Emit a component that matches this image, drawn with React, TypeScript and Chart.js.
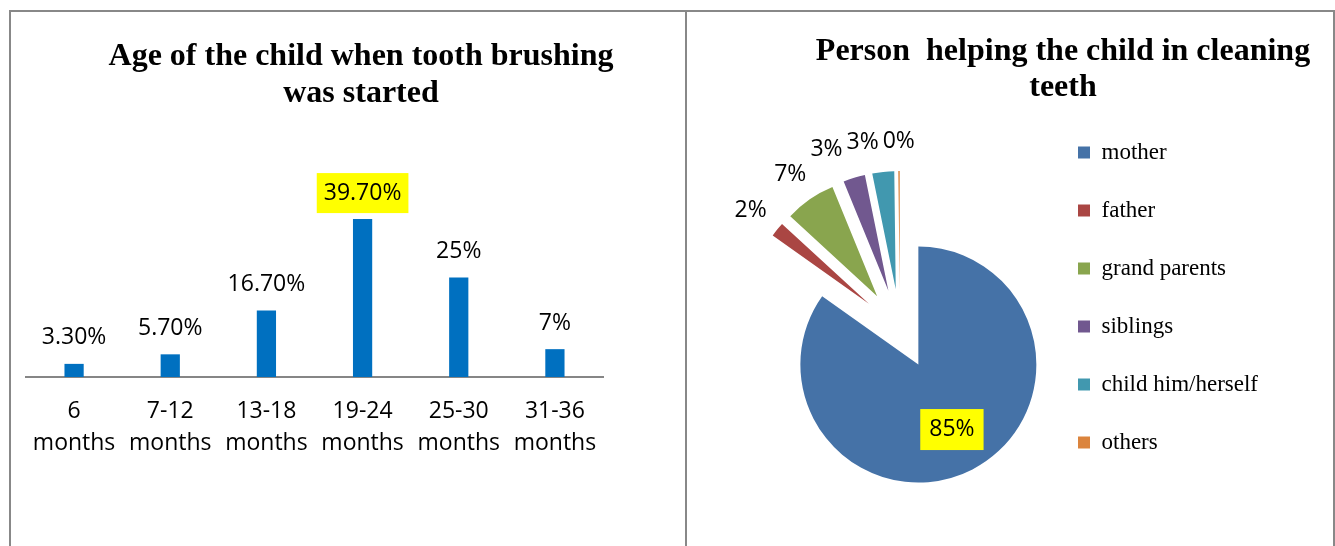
import React, { useEffect, useRef } from 'react';
import { Chart, registerables } from 'chart.js';

Chart.register(...registerables);

// ---------- data ----------
const barCategories = [
  ['6', 'months'],
  ['7-12', 'months'],
  ['13-18', 'months'],
  ['19-24', 'months'],
  ['25-30', 'months'],
  ['31-36', 'months'],
];
const barValues = [3.3, 5.7, 16.7, 39.7, 25, 7];
const barValueLabels = ['3.30%', '5.70%', '16.70%', '39.70%', '25%', '7%'];
const barHighlightIndex = 3;
const barTitle = ['Age of the child when tooth brushing', 'was started'];

const pieCategories = ['mother', 'father', 'grand parents', 'siblings', 'child him/herself', 'others'];
const pieValues = [85, 2, 7, 3, 3, 0.2];
const pieValueLabels = ['85%', '2%', '7%', '3%', '3%', '0%'];
const pieHighlightIndex = 0;
const pieColors = ['#4572A7', '#AA4643', '#89A54E', '#71588F', '#4198AF', '#DB843D'];
const pieTitle = ['Person  helping the child in cleaning', 'teeth'];

// ---------- styles ----------
const SANS = '"Open Sans", "Noto Sans", sans-serif';
const SERIF = '"Liberation Serif", "Times New Roman", serif';
const LABEL_FONT = '23px ' + SANS;
const HIGHLIGHT = '#FFFF00';

const barLabelPlugin = {
  id: 'barLabels',
  afterDatasetsDraw(chart: any) {
    const ctx = chart.ctx;
    const meta = chart.getDatasetMeta(0);
    ctx.save();
    ctx.font = LABEL_FONT;
    ctx.textAlign = 'center';
    ctx.textBaseline = 'middle';
    meta.data.forEach((bar: any, i: number) => {
      const text = barValueLabels[i];
      const x = bar.x;
      const y = bar.y - 26;
      if (i === barHighlightIndex) {
        const w = ctx.measureText(text).width + 14;
        ctx.fillStyle = HIGHLIGHT;
        ctx.fillRect(x - w / 2, y - 20, w, 40);
      }
      ctx.fillStyle = '#000';
      ctx.fillText(text, x, y);
    });
    ctx.restore();
  },
};

const explodePlugin = {
  id: 'explode',
  afterDatasetUpdate(chart: any, args: any, opts: any) {
    const d = (opts && opts.distance) || 0;
    const meta = chart.getDatasetMeta(args.index);
    meta.data.forEach((arc: any) => {
      const mid = (arc.startAngle + arc.endAngle) / 2;
      arc.x += Math.cos(mid) * d;
      arc.y += Math.sin(mid) * d;
    });
  },
};

const pieLabelPlugin = {
  id: 'pieLabels',
  afterDatasetsDraw(chart: any) {
    const ctx = chart.ctx;
    const meta = chart.getDatasetMeta(0);
    ctx.save();
    ctx.font = LABEL_FONT;
    ctx.textAlign = 'center';
    ctx.textBaseline = 'middle';
    const boxes: any[] = [];
    meta.data.forEach((arc: any, i: number) => {
      const mid = (arc.startAngle + arc.endAngle) / 2;
      const c = Math.cos(mid);
      const s = Math.sin(mid);
      const text = pieValueLabels[i];
      const w = ctx.measureText(text).width;
      const h = 24;
      if (i === pieHighlightIndex) {
        const r = arc.outerRadius * 0.62;
        boxes.push({ text, x: arc.x + c * r, y: arc.y + s * r, w, h, inside: true });
      } else {
        const r = arc.outerRadius + 18;
        boxes.push({ text, x: arc.x + c * r + (c * w) / 2, y: arc.y + s * r + (s * h) / 2, w, h, inside: false });
      }
    });
    const outside = boxes.filter((b) => !b.inside);
    for (let k = outside.length - 2; k >= 0; k--) {
      const a = outside[k];
      const b = outside[k + 1];
      const vOverlap = Math.abs(a.y - b.y) < (a.h + b.h) / 2;
      const limit = b.x - b.w / 2 - 4;
      if (vOverlap && a.x + a.w / 2 > limit) a.x = limit - a.w / 2;
    }
    boxes.forEach((b) => {
      if (b.inside) {
        const bw = b.w + 18;
        ctx.fillStyle = HIGHLIGHT;
        ctx.fillRect(b.x - bw / 2, b.y - 20.5, bw, 41);
      }
      ctx.fillStyle = '#000';
      ctx.fillText(b.text, b.x, b.y);
    });
    ctx.restore();
  },
};

function refreshAfterFonts(chart: Chart, alive: () => boolean) {
  const fs: any = (document as any).fonts;
  if (!fs || !fs.load) return;
  Promise.all([
    fs.load('23px "Open Sans"'),
    fs.load('bold 32px "Liberation Serif"'),
    fs.load('23px "Liberation Serif"'),
  ])
    .then(() => {
      if (alive()) chart.update();
    })
    .catch(() => {});
}

function BarPanel() {
  const ref = useRef<HTMLCanvasElement>(null);
  useEffect(() => {
    if (!ref.current) return;
    let alive = true;
    const chart = new Chart(ref.current, {
      type: 'bar',
      data: {
        labels: barCategories,
        datasets: [
          {
            data: barValues,
            backgroundColor: '#0070C0',
            borderWidth: 0,
            categoryPercentage: 1,
            barPercentage: 0.2,
          },
        ],
      },
      options: {
        animation: false,
        responsive: false,
        devicePixelRatio: 1,
        layout: { padding: { left: 15, right: 0, top: 0, bottom: 0 } },
        plugins: {
          legend: { display: false },
          tooltip: { enabled: false },
          title: {
            display: true,
            text: barTitle,
            color: '#000',
            font: { family: SERIF, size: 32, weight: 'bold', lineHeight: 37 / 32 },
            padding: { top: 26, bottom: 86 },
          },
        },
        scales: {
          x: {
            grid: { display: false, drawTicks: false },
            border: { display: true, color: '#868686', width: 2 },
            ticks: {
              color: '#000',
              font: { family: SANS, size: 23, lineHeight: 32 / 23 },
              padding: 18,
              maxRotation: 0,
              minRotation: 0,
              autoSkip: false,
            },
            afterFit: (s: any) => {
              s.height = 169;
            },
          },
          y: {
            position: 'right',
            min: 0,
            max: 45,
            display: true,
            grid: { display: false, drawTicks: false },
            border: { display: false },
            ticks: { display: false },
            afterFit: (s: any) => {
              s.width = 93;
            },
          },
        },
      } as any,
      plugins: [barLabelPlugin],
    });
    refreshAfterFonts(chart, () => alive);
    return () => {
      alive = false;
      chart.destroy();
    };
  }, []);
  return (
    <canvas
      ref={ref}
      width={685}
      height={534}
      style={{ position: 'absolute', left: 11, top: 12, width: 685, height: 534 }}
    />
  );
}

function PiePanel() {
  const ref = useRef<HTMLCanvasElement>(null);
  useEffect(() => {
    if (!ref.current) return;
    let alive = true;
    const chart = new Chart(ref.current, {
      type: 'pie',
      data: {
        labels: pieCategories,
        datasets: [
          {
            data: pieValues,
            backgroundColor: pieColors,
            borderWidth: 0,
            radius: 118,
          },
        ],
      },
      options: {
        animation: false,
        responsive: false,
        devicePixelRatio: 1,
        layout: { padding: { left: 103, right: 0, top: 0, bottom: 0 } },
        plugins: {
          tooltip: { enabled: false },
          title: {
            display: true,
            text: pieTitle,
            color: '#000',
            font: { family: SERIF, size: 32, weight: 'bold', lineHeight: 36 / 32 },
            padding: { top: 22, bottom: 0 },
          },
          legend: {
            position: 'right',
            fullSize: false,
            align: 'start',
            labels: {
              boxWidth: 12,
              boxHeight: 12,
              padding: 35,
              color: '#000',
              font: { family: SERIF, size: 23 },
            },
          },
          explode: { distance: 40 },
        },
        scales: {
          gapInner: {
            type: 'linear',
            axis: 'y',
            position: 'right',
            display: false,
            weight: 0,
            afterFit: (s: any) => {
              s.width = 33;
            },
          },
          gapOuter: {
            type: 'linear',
            axis: 'y',
            position: 'right',
            display: false,
            weight: 2000,
            afterFit: (s: any) => {
              s.width = 68;
            },
          },
        },
      } as any,
      plugins: [explodePlugin, pieLabelPlugin],
    });
    refreshAfterFonts(chart, () => alive);
    return () => {
      alive = false;
      chart.destroy();
    };
  }, []);
  return (
    <canvas
      ref={ref}
      width={649}
      height={540}
      style={{ position: 'absolute', left: 687, top: 12, width: 649, height: 540 }}
    />
  );
}

export default function App() {
  return (
    <div
      style={{
        position: 'fixed',
        left: 0,
        top: 0,
        width: 1335,
        height: 546,
        overflow: 'hidden',
        background: '#fff',
      }}
    >
      <div
        style={{
          position: 'absolute',
          left: 9,
          top: 10,
          width: 1326,
          height: 600,
          border: '2px solid #888888',
          boxSizing: 'border-box',
        }}
      />
      <div style={{ position: 'absolute', left: 685, top: 10, width: 2, height: 600, background: '#888888' }} />
      <BarPanel />
      <PiePanel />
    </div>
  );
}
